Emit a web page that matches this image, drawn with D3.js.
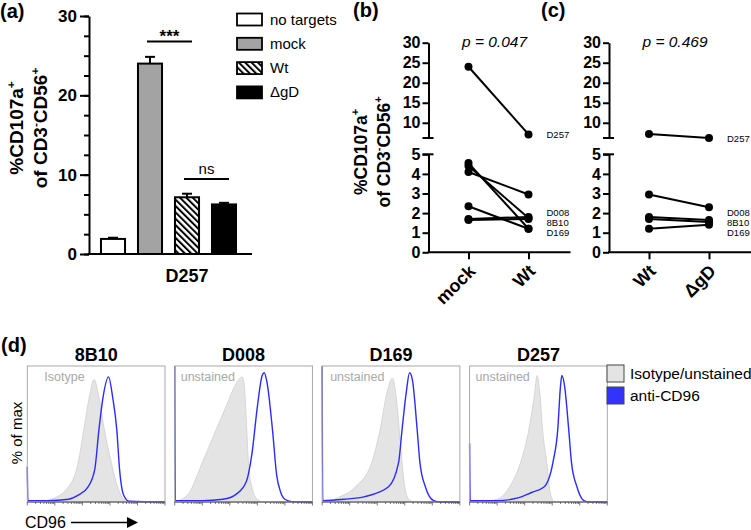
<!DOCTYPE html>
<html>
<head>
<meta charset="utf-8">
<script src="https://cdn.jsdelivr.net/npm/d3@7"></script>
<style>
  body { margin: 0; background: #fff; }
  svg { font-family: "Liberation Sans", Arial, sans-serif; display: block; }
</style>
</head>
<body>
<svg id="fig" width="751" height="530"></svg>
<script>
/* ============================
      Data
   ============================ */
// (a) degranulation, donor D257
const barGroups = ["no targets", "mock", "Wt", "ΔgD"];
const barMeans = [1.9, 24.0, 7.15, 6.25];
const barErr = [0.15, 0.85, 0.45, 0.2];
const barTicks = [0, 10, 20, 30];

// (b) mock vs Wt, one entry per donor
const catsB = ["mock", "Wt"];
const mockB = [24.0, 4.1, 4.55, 4.4, 2.35, 1.7, 1.65];
const wtB = [7.1, 2.95, 1.2, 1.75, 1.2, 1.8, 1.7];

// (c) Wt vs ΔgD
const catsC = ["Wt", "ΔgD"];
const wtC = [7.2, 2.95, 1.8, 1.7, 1.2];
const dgdC = [6.2, 2.3, 1.65, 1.55, 1.4];

const sideLabels = ["D257", "D008", "8B10", "D169"];
const sideValsB = [7.1, 2.03, 1.5, 0.99];
const sideValsC = [6.2, 2.03, 1.5, 0.99];
const upperTicks = [10, 15, 20, 25, 30];
const lowerTicks = [0, 1, 2, 3, 4, 5];

// (d) CD96 histograms: [relative log fluorescence, fraction of max]
const iso8B10 = [[0,0],[0.1,0.005],[0.17,0.02],[0.29,0.1],[0.37,0.29],[0.41,0.53],[0.45,0.77],[0.485,0.9],[0.52,0.77],[0.56,0.53],[0.61,0.29],[0.66,0.1],[0.70,0.02],[0.75,0],[1,0]];
const ab8B10 = [[0,0.26],[0.004,0.012],[0.15,0.01],[0.3,0.02],[0.37,0.05],[0.44,0.11],[0.49,0.24],[0.52,0.53],[0.55,0.77],[0.59,0.92],[0.62,0.77],[0.65,0.53],[0.67,0.24],[0.70,0.05],[0.74,0.005],[1,0]];
const isoD008 = [[0,0.005],[0.05,0.02],[0.1,0.06],[0.2,0.29],[0.3,0.53],[0.38,0.72],[0.44,0.86],[0.49,0.92],[0.505,0.86],[0.52,0.6],[0.535,0.29],[0.56,0.11],[0.6,0.02],[0.65,0],[1,0]];
const abD008 = [[0,1.0],[0.004,0.01],[0.2,0.01],[0.35,0.02],[0.45,0.06],[0.52,0.15],[0.56,0.35],[0.6,0.7],[0.635,0.93],[0.65,0.95],[0.67,0.88],[0.71,0.53],[0.74,0.2],[0.77,0.07],[0.8,0.02],[0.85,0.003],[1,0]];
const isoD169 = [[0,0],[0.05,0.005],[0.11,0.03],[0.24,0.11],[0.36,0.29],[0.42,0.53],[0.47,0.8],[0.51,0.91],[0.54,0.75],[0.56,0.53],[0.58,0.29],[0.60,0.11],[0.63,0.02],[0.67,0],[1,0]];
const abD169 = [[0,1.0],[0.004,0.01],[0.16,0.02],[0.31,0.04],[0.48,0.11],[0.555,0.29],[0.58,0.53],[0.61,0.8],[0.635,0.95],[0.655,0.9],[0.69,0.53],[0.71,0.29],[0.75,0.11],[0.81,0.01],[0.86,0],[1,0]];
const isoD257 = [[0,0],[0.1,0.005],[0.2,0.02],[0.29,0.11],[0.37,0.29],[0.43,0.53],[0.47,0.78],[0.49,0.93],[0.51,0.8],[0.53,0.53],[0.56,0.29],[0.59,0.05],[0.62,0],[1,0]];
const abD257 = [[0,0.43],[0.004,0.01],[0.2,0.01],[0.35,0.03],[0.45,0.07],[0.54,0.11],[0.605,0.29],[0.64,0.53],[0.66,0.85],[0.67,0.93],[0.69,0.85],[0.72,0.53],[0.74,0.29],[0.78,0.11],[0.83,0.01],[0.87,0],[1,0]];
const histDonors = ["8B10", "D008", "D169", "D257"];
const histCtrl = ["Isotype", "unstained", "unstained", "unstained"];
const histIso = [iso8B10, isoD008, isoD169, isoD257];
const histAb = [ab8B10, abD008, abD169, abD257];

const svg = d3.select("#fig");
const FONT_BOLD = "bold";

// hatch for the Wt bar
svg.append("defs").append("pattern")
    .attr("id", "hatch")
    .attr("patternUnits", "userSpaceOnUse")
    .attr("width", 4.5).attr("height", 4.5)
    .attr("patternTransform", "rotate(-45)")
    .append("line")
    .attr("x1", 1).attr("y1", 0).attr("x2", 1).attr("y2", 4.5)
    .attr("stroke", "#000").attr("stroke-width", 2);

function panelLetter(x, y, t) {
    svg.append("text").attr("x", x).attr("y", y)
        .attr("font-size", 20).attr("font-weight", FONT_BOLD).text(t);
}

// rotated two-line y label with superscripts
function yLabel(cx, cy, size, gap) {
    const sup = size * 0.62;
    const t1 = svg.append("text")
        .attr("transform", `translate(${cx - gap / 2},${cy}) rotate(-90)`)
        .attr("text-anchor", "middle").attr("font-size", size).attr("font-weight", FONT_BOLD);
    t1.append("tspan").text("%CD107a");
    t1.append("tspan").attr("dy", -size * 0.42).attr("font-size", sup).text("+");
    const t2 = svg.append("text")
        .attr("transform", `translate(${cx + gap / 2},${cy}) rotate(-90)`)
        .attr("text-anchor", "middle").attr("font-size", size).attr("font-weight", FONT_BOLD);
    t2.append("tspan").text("of CD3");
    t2.append("tspan").attr("dy", -size * 0.42).attr("font-size", sup).text("-");
    t2.append("tspan").attr("dy", size * 0.42).text("CD56");
    t2.append("tspan").attr("dy", -size * 0.42).attr("font-size", sup).text("+");
}

function styleAxis(g, size) {
    g.selectAll(".domain").attr("stroke-width", 2);
    g.selectAll(".tick line").attr("stroke-width", 2);
    g.selectAll(".tick text").attr("font-size", size).attr("font-weight", FONT_BOLD)
        .attr("font-family", "Liberation Sans, Arial, sans-serif").attr("fill", "#000");
}

/* ============================
      (a) bar chart
   ============================ */
function drawBars() {
    const axisX = 89;
    const yA = d3.scaleLinear().domain([0, 30]).range([254, 16]);
    const xA = d3.scaleBand().domain(barGroups).range([94.5, 242.5])
        .paddingInner(0.35).paddingOuter(0.175);
    const fills = ["#fff", "#a3a3a3", "url(#hatch)", "#000"];

    panelLetter(0, 18, "(a)");
    yLabel(35, 128, 19, 24);

    // minor ticks every 2.5
    svg.append("g").attr("transform", `translate(${axisX},0)`)
        .call(d3.axisLeft(yA).tickValues(d3.range(0, 30.01, 2.5)).tickSize(5).tickFormat(""))
        .call(g => g.select(".domain").remove())
        .call(g => g.selectAll("line").attr("stroke-width", 2));
    svg.append("g").attr("transform", `translate(${axisX},0)`)
        .call(d3.axisLeft(yA).tickValues(barTicks).tickSize(9).tickSizeOuter(0).tickPadding(3))
        .call(g => styleAxis(g, 17));

    // x axis line
    svg.append("line").attr("x1", axisX - 1).attr("x2", 252)
        .attr("y1", yA(0)).attr("y2", yA(0))
        .attr("stroke", "#000").attr("stroke-width", 2);

    const bars = barGroups.map((k, i) => ({k, m: barMeans[i], e: barErr[i], f: fills[i]}));
    const cx = d => xA(d.k) + xA.bandwidth() / 2;

    // error bars (upper half only)
    svg.append("g").selectAll("g").data(bars).join("g")
        .each(function(d) {
            const g = d3.select(this);
            g.append("line").attr("x1", cx(d)).attr("x2", cx(d))
                .attr("y1", yA(d.m)).attr("y2", yA(d.m + d.e))
                .attr("stroke", "#000").attr("stroke-width", 2);
            g.append("line").attr("x1", cx(d) - 5).attr("x2", cx(d) + 5)
                .attr("y1", yA(d.m + d.e)).attr("y2", yA(d.m + d.e))
                .attr("stroke", "#000").attr("stroke-width", 2);
        });

    svg.append("g").selectAll("rect").data(bars).join("rect")
        .attr("x", d => xA(d.k))
        .attr("y", d => yA(d.m))
        .attr("width", xA.bandwidth())
        .attr("height", d => yA(0) - yA(d.m))
        .attr("fill", d => d.f)
        .attr("stroke", "#000").attr("stroke-width", 2);

    svg.append("text").attr("x", (xA("mock") + xA("ΔgD") + xA.bandwidth()) / 2).attr("y", 282)
        .attr("text-anchor", "middle").attr("font-size", 18).attr("font-weight", FONT_BOLD).text("D257");

    // significance brackets
    const sig = [["mock", "Wt", 26.8, "***", true], ["Wt", "ΔgD", 9.45, "ns", false]];
    sig.forEach(([a, b, v, t, bold]) => {
        const x1 = cx({k: a}) - 3, x2 = cx({k: b}) + 5;
        svg.append("line").attr("x1", x1).attr("x2", x2).attr("y1", yA(v)).attr("y2", yA(v))
            .attr("stroke", "#000").attr("stroke-width", 2);
        svg.append("text").attr("x", (x1 + x2) / 2).attr("y", yA(v) - (bold ? -1 : 5))
            .attr("text-anchor", "middle").attr("font-size", bold ? 17 : 15)
            .attr("font-weight", bold ? "bold" : "normal").text(t);
    });

    // legend
    const lg = svg.append("g").selectAll("g").data(bars).join("g")
        .attr("transform", (d, i) => `translate(237,${13.5 + i * 24.3})`);
    lg.append("rect").attr("width", 25).attr("height", 12)
        .attr("fill", d => d.f).attr("stroke", "#000").attr("stroke-width", 1.8);
    lg.append("text").attr("x", 33).attr("y", 11).attr("font-size", 15).text(d => d.k);
}

/* ============================
      (b)/(c) paired dot plots with broken axis
   ============================ */
const yUp = d3.scaleLinear().domain([6.2, 30]).range([138, 42.7]);
const yLo = d3.scaleLinear().domain([0, 5]).range([252.3, 154.3]);
const yBrk = v => v > 6 ? yUp(v) : yLo(v);

function drawPaired(axisX, cats, left, right, sideVals, pText) {
    const x = d3.scalePoint().domain(cats).range([axisX + 40, axisX + 100]);
    const g = svg.append("g");

    g.append("g").attr("transform", `translate(${axisX},0)`)
        .call(d3.axisLeft(yUp).tickValues(upperTicks).tickSize(6).tickSizeOuter(0).tickPadding(2))
        .call(a => styleAxis(a, 16));
    g.append("g").attr("transform", `translate(${axisX},0)`)
        .call(d3.axisLeft(yLo).tickValues(lowerTicks).tickFormat(d3.format("d"))
            .tickSize(6).tickSizeOuter(0).tickPadding(2))
        .call(a => styleAxis(a, 16));
    // break caps
    [yUp.range()[0], yLo.range()[1]].forEach(yy => {
        g.append("line").attr("x1", axisX - 6).attr("x2", axisX + 5).attr("y1", yy).attr("y2", yy)
            .attr("stroke", "#000").attr("stroke-width", 2);
    });

    // x axis
    g.append("line").attr("x1", axisX - 1).attr("x2", axisX + 142)
        .attr("y1", yLo(0)).attr("y2", yLo(0)).attr("stroke", "#000").attr("stroke-width", 2);
    g.append("g").attr("transform", `translate(0,${yLo(0)})`)
        .call(d3.axisBottom(x).tickSize(7).tickFormat(""))
        .call(a => a.select(".domain").remove())
        .call(a => a.selectAll("line").attr("stroke-width", 2));
    g.selectAll(".xlab").data(cats).join("text")
        .attr("transform", d => `translate(${x(d) + 8},${yLo(0) + 20}) rotate(-45)`)
        .attr("text-anchor", "end").attr("font-size", 18).attr("font-weight", FONT_BOLD).text(d => d);

    const pairs = left.map((v, i) => [v, right[i]]);
    g.selectAll(".pair").data(pairs).join("line")
        .attr("x1", x(cats[0])).attr("x2", x(cats[1]))
        .attr("y1", d => yBrk(d[0])).attr("y2", d => yBrk(d[1]))
        .attr("stroke", "#000").attr("stroke-width", 2);
    const pts = pairs.flatMap(d => [[cats[0], d[0]], [cats[1], d[1]]]);
    g.selectAll("circle").data(pts).join("circle")
        .attr("cx", d => x(d[0])).attr("cy", d => yBrk(d[1])).attr("r", 4).attr("fill", "#000");

    g.selectAll(".side").data(sideLabels).join("text")
        .attr("x", x(cats[1]) + 18).attr("y", (d, i) => yBrk(sideVals[i]) + 3.5)
        .attr("font-size", 9.5).text(d => d);

    g.append("text").attr("x", x(cats[0]) + 26).attr("y", 47)
        .attr("text-anchor", "middle").attr("font-size", 15.5).attr("font-style", "italic").text(pText);
}

/* ============================
      (d) histograms
   ============================ */
function drawHists() {
    panelLetter(1, 352, "(d)");
    const y = d3.scaleLinear().domain([0, 1]).range([502, 366]);
    const panelX = d3.scaleBand().domain(histDonors).range([27.3, 607.3]).paddingInner(0.066).paddingOuter(0);
    const w = panelX.bandwidth();
    const labOff = [17, 6, 8, 6];

    histDonors.forEach((donor, i) => {
        const x0 = panelX(donor);
        const x = d3.scaleLinear().domain([0, 1]).range([x0, x0 + w]);
        const xl = d3.scaleLog().domain([1, 1e5]).range([x0, x0 + w]);
        const g = svg.append("g");

        const area = d3.area().x(d => x(d[0])).y0(y(0)).y1(d => y(d[1])).curve(d3.curveMonotoneX);
        const line = d3.line().x(d => x(d[0])).y(d => y(d[1])).curve(d3.curveMonotoneX);

        g.append("path").attr("d", area(histIso[i])).attr("fill", "#e4e4e4")
            .attr("stroke", "#cfcfcf").attr("stroke-width", 0.8);
        g.append("path").attr("d", line(histAb[i])).attr("fill", "none")
            .attr("stroke", "#2b2bff").attr("stroke-width", 1.4);

        g.append("rect").attr("x", x0).attr("y", y(1)).attr("width", w).attr("height", y(0) - y(1))
            .attr("fill", "none").attr("stroke", "#a8a8a8").attr("stroke-width", 1);
        g.append("line").attr("x1", x0).attr("x2", x0 + w).attr("y1", y(0)).attr("y2", y(0))
            .attr("stroke", "#555").attr("stroke-width", 1);

        // log ticks
        const tv = xl.ticks(40);
        g.selectAll(".lt").data(tv).join("line")
            .attr("x1", d => xl(d)).attr("x2", d => xl(d))
            .attr("y1", y(0)).attr("y2", d => y(0) + (Math.log10(d) % 1 === 0 ? 3.5 : 2))
            .attr("stroke", "#555").attr("stroke-width", 0.8);

        g.append("text").attr("x", x0 + w / 2).attr("y", 361).attr("text-anchor", "middle")
            .attr("font-size", 18).attr("font-weight", FONT_BOLD).text(donor);
        g.append("text").attr("x", x0 + labOff[i]).attr("y", 381)
            .attr("font-size", 12.5).attr("fill", "#a8a8a8").text(histCtrl[i]);
    });

    svg.append("text").attr("transform", "translate(22,433) rotate(-90)")
        .attr("text-anchor", "middle").attr("font-size", 15).text("% of max");
    svg.append("text").attr("x", 25).attr("y", 528).attr("font-size", 16).text("CD96");
    svg.append("line").attr("x1", 71).attr("x2", 128).attr("y1", 522.5).attr("y2", 522.5)
        .attr("stroke", "#000").attr("stroke-width", 1.5);
    svg.append("path").attr("d", "M127,517L138,522.5L127,528Z").attr("fill", "#000");

    const leg = [["Isotype/unstained", "#e4e4e4"], ["anti-CD96", "#3333ff"]];
    const lg = svg.append("g").selectAll("g").data(leg).join("g")
        .attr("transform", (d, i) => `translate(607,${365 + i * 22})`);
    lg.append("rect").attr("width", 17).attr("height", 17).attr("fill", d => d[1])
        .attr("stroke", "#444").attr("stroke-width", 1);
    lg.append("text").attr("x", 23).attr("y", 14).attr("font-size", 15.5).text(d => d[0]);
}

drawBars();
panelLetter(353, 17, "(b)");
yLabel(378, 152, 17.5, 23);
drawPaired(428.5, catsB, mockB, wtB, sideValsB, "p = 0.047");
panelLetter(541, 17, "(c)");
drawPaired(609, catsC, wtC, dgdC, sideValsC, "p = 0.469");
drawHists();
</script>
</body>
</html>
